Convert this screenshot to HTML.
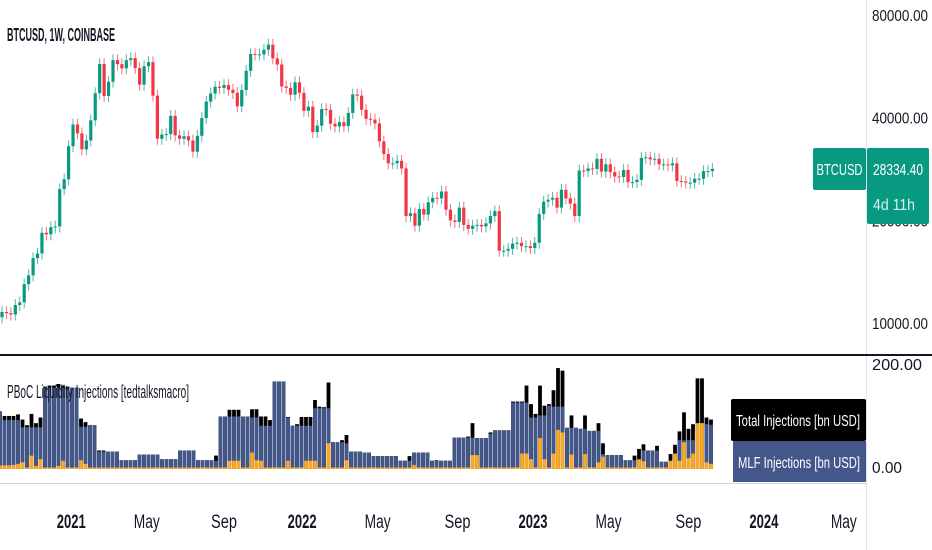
<!DOCTYPE html>
<html><head><meta charset="utf-8"><style>
html,body{margin:0;padding:0;background:#fff;width:932px;height:550px;overflow:hidden}
svg text{font-family:"Liberation Sans",sans-serif}
</style></head><body>
<svg id="chart" width="932" height="550" viewBox="0 0 932 550" xmlns="http://www.w3.org/2000/svg">
<rect x="0" y="0" width="932" height="550" fill="#fff"/>
<g id="candles"></g>
<g id="bars"></g>
<line x1="866.5" y1="0" x2="866.5" y2="550" stroke="#e0e3eb"/>
<line x1="0" y1="355" x2="932" y2="355" stroke="#131722" stroke-width="2"/>
<line x1="0" y1="483.5" x2="866" y2="483.5" stroke="#d1d4dc" stroke-width="1"/>
<g id="yticks" font-size="16" fill="#131722"></g>
<text x="7" y="41" font-size="18" font-weight="bold" fill="#131722" textLength="108" lengthAdjust="spacingAndGlyphs">BTCUSD, 1W, COINBASE</text>
<text x="7" y="398" font-size="18" fill="#131722" textLength="182" lengthAdjust="spacingAndGlyphs">PBoC Liquidity Injections [tedtalksmacro]</text>
<rect x="813" y="148" width="53" height="42" rx="2" fill="#089981"/>
<text x="839.5" y="175" font-size="16" fill="#fff" text-anchor="middle" textLength="46" lengthAdjust="spacingAndGlyphs">BTCUSD</text>
<rect x="867" y="148" width="62" height="76" rx="2" fill="#089981"/>
<text x="873" y="175" font-size="16" fill="#fff" textLength="50" lengthAdjust="spacingAndGlyphs">28334.40</text>
<text x="873" y="210" font-size="16" fill="#d8f2ec" textLength="42" lengthAdjust="spacingAndGlyphs">4d 11h</text>
<rect x="731" y="399" width="135" height="42" rx="2" fill="#000"/>
<text x="798" y="426" font-size="16" fill="#fff" text-anchor="middle" textLength="124" lengthAdjust="spacingAndGlyphs">Total Injections [bn USD]</text>
<rect x="733" y="441" width="133" height="41" fill="#43578a"/>
<text x="799" y="468" font-size="16" fill="#fff" text-anchor="middle" textLength="122" lengthAdjust="spacingAndGlyphs">MLF Injections [bn USD]</text>
<g id="xticks" font-size="19" fill="#131722"></g>
</svg>
<script>
const closes=[10.78,10.7,10.6,11.3,11.5,13.0,13.8,15.5,16.0,18.4,18.2,19.1,19.2,24.7,26.4,33.0,
38.2,36.0,32.3,34.3,39.3,47.2,57.5,46.3,51.0,59.0,57.4,55.8,59.0,59.8,55.9,50.0,56.6,58.2,46.4,34.7,35.7,35.8,40.5,35.5,34.7,35.3,34.3,31.8,35.4,39.9,44.6,47.1,49.3,48.9,49.9,48.3,47.3,43.2,48.2,54.9,61.5,61.3,61.3,63.3,65.5,59.7,57.3,49.4,48.9,46.7,50.8,47.3,
41.9,43.1,36.3,37.9,42.4,42.2,38.4,37.7,38.8,37.8,41.3,46.8,46.4,42.2,39.7,39.5,38.5,34.1,31.3,29.4,29.4,29.9,28.4,20.6,21.0,19.3,21.6,20.8,22.6,23.3,23.2,24.3,21.5,20.0,19.8,21.8,19.4,18.9,19.3,19.4,19.2,19.6,20.6,21.3,16.3,16.3,16.5,17.1,17.2,16.8,16.8,16.6,
17.2,20.9,22.7,23.0,23.3,21.8,24.6,23.2,22.4,20.6,28.0,27.9,28.4,28.3,30.3,27.8,29.2,27.7,26.9,26.8,28.1,25.9,25.9,26.3,30.5,30.6,30.2,30.3,29.2,29.2,29.0,29.4,26.1,26.0,25.8,25.8,26.5,26.5,27.9,27.9,28.3];
const firstOpen=10.4;
const totals=[112,103,103,103,106,96,85,107,89,100,160,162,162,165,162,160,158,158,98,91,85,85,36,36,34,34,34,17,17,17,17,28,28,28,28,28,19,19,19,19,36,36,36,36,17,17,17,17,26,102,102,115,115,115,102,102,116,116,102,102,95,170,170,170,101,84,87,101,101,101,134,121,120,168,52,52,56,66,34,34,34,32,32,25,25,25,25,25,25,16,16,25,32,32,32,32,16,17,16,16,16,61,61,61,63,89,60,60,60,71,75,75,75,75,131,131,131,162,126,107,162,123,126,153,196,191,80,104,80,78,104,74,74,89,50,27,27,27,27,17,17,26,39,48,36,36,45,14,14,29,47,73,110,78,87,176,176,100,96];
const mlf=[112,95,95,95,95,81,81,81,81,81,158,158,158,158,158,158,158,158,82,82,85,85,34,34,34,34,34,17,17,17,17,28,28,28,28,28,19,19,19,19,36,36,36,36,17,17,17,17,16,102,102,102,102,102,102,102,100,100,84,84,84,170,170,170,100,84,84,84,84,84,118,118,118,118,52,52,52,50,34,34,34,32,32,25,25,25,25,25,25,16,16,16,32,32,32,32,16,16,16,16,16,61,61,61,61,61,60,60,60,68,74,74,74,74,129,129,129,129,100,100,104,104,123,121,121,121,80,80,80,78,78,74,74,74,29,27,27,27,27,17,17,17,16,36,36,36,36,14,14,14,30,56,56,56,56,89,89,87,86];
const other=[7,7,7,8,10,13,3,26,6,19,3,3,3,6,16,3,3,3,17,10,3,3,3,3,3,3,3,3,3,3,3,3,3,3,3,3,3,3,3,3,3,3,3,3,3,3,3,3,3,3,3,16,16,16,3,3,32,17,16,3,3,3,3,3,16,3,3,3,16,16,16,3,3,50,3,3,3,17,3,3,3,3,3,3,3,3,3,3,3,3,3,3,8,3,3,3,3,3,3,3,3,3,3,3,3,27,27,3,3,3,3,3,3,3,3,3,30,30,19,3,60,19,3,30,76,71,3,28,3,3,29,3,3,13,24,3,3,3,3,3,3,3,19,15,3,3,3,3,3,16,30,16,52,21,30,89,89,13,10];
const priceTicks=[80000,40000,20000,10000];
const priceTickLabels=["80000.00","40000.00","20000.00","10000.00"];
const volTicks=[200,0];
const volTickLabels=["200.00","0.00"];
const timeLabels=["2021","May","Sep","2022","May","Sep","2023","May","Sep","2024","May"];
const timeWeeks=[15.6,32.6,50,67.6,84.6,102.6,119.6,136.6,154.6,171.6,189.6];
const timeBold=[1,0,0,1,0,0,1,0,0,1,0];

const NS="http://www.w3.org/2000/svg";
const step=4.44;
const xC=i=>2+i*step;
const yP=p=>15+102.7*Math.log2(80000/p);
const yV=v=>469-v*0.515;
function mk(tag,attrs,parent){const e=document.createElementNS(NS,tag);for(const k in attrs)e.setAttribute(k,attrs[k]);parent.appendChild(e);return e;}
const cg=document.getElementById('candles');
closes.forEach((c,i)=>{
  const o=i===0?firstOpen:closes[i-1];
  const up=c>=o;const col=up?'#089981':'#f23645';
  const hi=Math.max(o,c)*1000*1.04, lo=Math.min(o,c)*1000*0.96;
  const x=xC(i);
  const w=mk('line',{x1:x,x2:x,y1:yP(hi),y2:yP(lo),stroke:col,'stroke-width':1,opacity:0.7},cg);
  
  
  const t=Math.min(yP(o*1000),yP(c*1000));const h=Math.max(1,Math.abs(yP(o*1000)-yP(c*1000)));
  const b=mk('rect',{x:x-1.6,y:t,width:3.2,height:h,fill:col},cg);
  
  
});
const bg=document.getElementById('bars');
const bstep=711/(totals.length-1);
totals.forEach((v,i)=>{
  const x=i*bstep-1.9;
  const r1=mk('rect',{x:x,y:yV(v),width:3.8,height:469-yV(v),fill:'#000'},bg);
  
  
  const r2=mk('rect',{x:x,y:yV(mlf[i]),width:3.8,height:469-yV(mlf[i]),fill:'#43578a'},bg);
  
  
  const r3=mk('rect',{x:x,y:yV(other[i]),width:3.8,height:469-yV(other[i]),fill:'#f9a825'},bg);
  
  
});
const yt=document.getElementById('yticks');
priceTicks.forEach((p,i)=>{
  const t=mk('text',{x:872,y:yP(p)+6,textLength:56,lengthAdjust:'spacingAndGlyphs'},yt);t.textContent=priceTickLabels[i];
  
  
});
volTicks.forEach((v,i)=>{
  const t=mk('text',{x:872,y:yV(v)+4,textLength:v?50:30,lengthAdjust:'spacingAndGlyphs'},yt);t.textContent=volTickLabels[i];
  
  
});
const xt=document.getElementById('xticks');
timeLabels.forEach((l,i)=>{
  const t=mk('text',{x:xC(timeWeeks[i]),y:528,'text-anchor':'middle','font-weight':timeBold[i]?'bold':'normal',textLength:timeBold[i]?29:26,lengthAdjust:'spacingAndGlyphs'},xt);t.textContent=l;
  
  
});
</script>
</body></html>
